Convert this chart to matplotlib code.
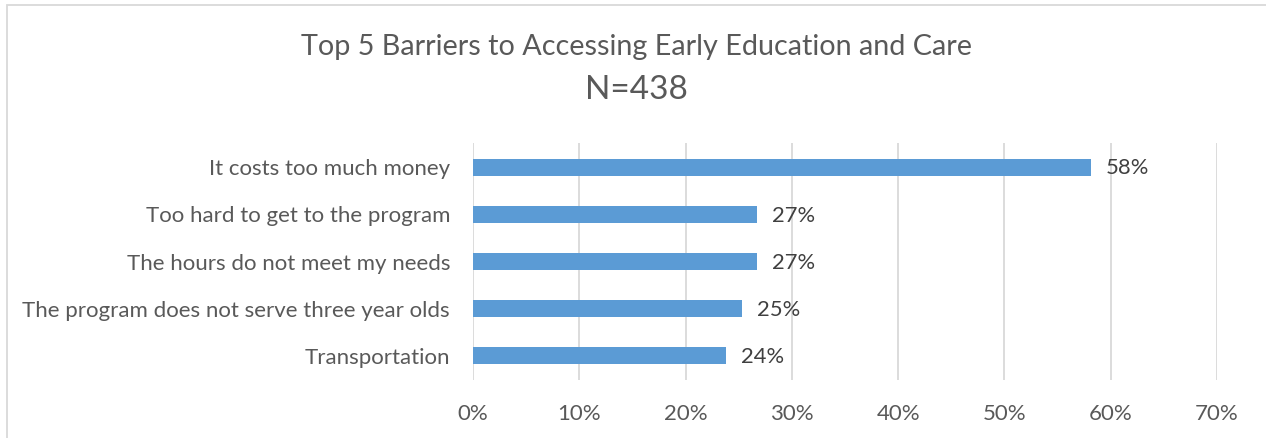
import matplotlib.pyplot as plt
from matplotlib.patches import Rectangle
from matplotlib.ticker import PercentFormatter

plt.rcParams['font.family'] = ['Lato', 'DejaVu Sans']

categories = ['It costs too much money',
              'Too hard to get to the program',
              'The hours do not meet my needs',
              'The program does not serve three year olds',
              'Transportation']
values = [58.1, 26.7, 26.7, 25.3, 23.8]
labels = ['58%', '27%', '27%', '25%', '24%']

bar_color = '#5B9BD5'
grey = '#595959'

fig = plt.figure(figsize=(12.66, 4.38), dpi=100)
ax = fig.add_axes([0.3736, 0.1333, 0.5877, 0.5393])

ypos = list(range(len(categories)))
ax.barh(ypos, values, height=0.36, color=bar_color, zorder=3)
for y, v, t in zip(ypos, values, labels):
    ax.text(v + 1.4, y + 0.03, t, va='center', ha='left', fontsize=15.8, color='#404040')

ax.set_yticks(ypos)
ax.set_yticklabels(categories, fontsize=16, color=grey)
ax.set_ylim(4.5, -0.5)
ax.set_xlim(0, 70)
ax.set_xticks(range(0, 71, 10))
ax.xaxis.set_major_formatter(PercentFormatter(decimals=0))
ax.tick_params(axis='x', length=0, pad=17.5, labelsize=16, labelcolor=grey)
ax.tick_params(axis='y', length=0, pad=16.5)
ax.grid(axis='x', color='#D9D9D9', linewidth=1.3, zorder=0)
for s in ax.spines.values():
    s.set_visible(False)

fig.text(0.5025, 0.893, 'Top 5 Barriers to Accessing Early Education and Care',
         ha='center', va='center', fontsize=20.7, color=grey)
fig.text(0.5025, 0.795, 'N=438', ha='center', va='center', fontsize=24,
         color=grey)

fig.patches.append(Rectangle((0.0055, -0.01), 1.0, 0.9985, transform=fig.transFigure,
                             fill=False, edgecolor='#D9D9D9', linewidth=1.3))

fig.savefig('out.png', dpi=100, facecolor='white')
